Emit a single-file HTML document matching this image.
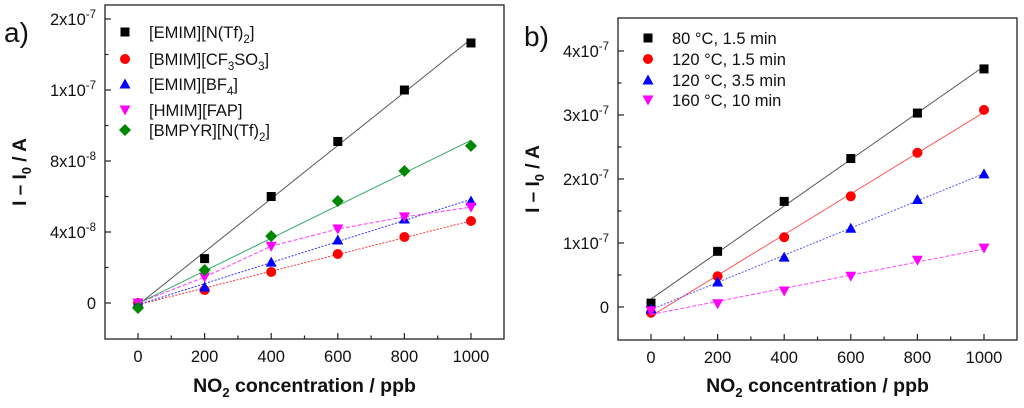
<!DOCTYPE html>
<html><head><meta charset="utf-8"><style>
body{margin:0;background:#fff;}
svg{display:block;font-family:"Liberation Sans",Arial,sans-serif;}
</style></head><body>
<svg id="fig" width="1024" height="408" viewBox="0 0 1024 408" xmlns="http://www.w3.org/2000/svg"></svg>
<script>
// ---- Panel a data ----
const xCats = [0, 200, 400, 600, 800, 1000];
const aNames = ["[EMIM][N(Tf)2]", "[BMIM][CF3SO3]", "[EMIM][BF4]", "[HMIM][FAP]", "[BMPYR][N(Tf)2]"];
const aBlack = [0, 2.5e-8, 6.0e-8, 9.1e-8, 1.2e-7, 1.465e-7];
const aRed = [0, 0.73e-8, 1.75e-8, 2.76e-8, 3.72e-8, 4.62e-8];
const aBlue = [0, 0.9e-8, 2.3e-8, 3.55e-8, 4.73e-8, 5.75e-8];
const aMagenta = [0, 1.46e-8, 3.2e-8, 4.17e-8, 4.85e-8, 5.4e-8];
const aGreen = [-0.28e-8, 1.86e-8, 3.77e-8, 5.75e-8, 7.44e-8, 8.85e-8];
const aYTickVals = [0, 4e-8, 8e-8, 1.2e-7, 1.6e-7];
const aYTickLabels = [["0",""], ["4x10","-8"], ["8x10","-8"], ["1x10","-7"], ["2x10","-7"]];
// ---- Panel b data ----
const bNames = ["80 °C, 1.5 min", "120 °C, 1.5 min", "120 °C, 3.5 min", "160 °C, 10 min"];
const bBlack = [0.06e-7, 0.87e-7, 1.65e-7, 2.32e-7, 3.03e-7, 3.72e-7];
const bRed = [-0.09e-7, 0.48e-7, 1.09e-7, 1.73e-7, 2.41e-7, 3.08e-7];
const bBlue = [-0.03e-7, 0.39e-7, 0.78e-7, 1.23e-7, 1.68e-7, 2.08e-7];
const bMagenta = [-0.06e-7, 0.05e-7, 0.25e-7, 0.48e-7, 0.73e-7, 0.92e-7];
const bYTickVals = [0, 1e-7, 2e-7, 3e-7, 4e-7];
const bYTickLabels = [["0",""], ["1x10","-7"], ["2x10","-7"], ["3x10","-7"], ["4x10","-7"]];
const xTickLabels = ["0", "200", "400", "600", "800", "1000"];

const NS = "http://www.w3.org/2000/svg";
const svg = document.getElementById("fig");
function mk(tag, attrs, parent) {
  const e = document.createElementNS(NS, tag);
  for (const k in attrs) e.setAttribute(k, attrs[k]);
  (parent || svg).appendChild(e);
  return e;
}
function fit(xs, ys) {
  const n = xs.length; let sx=0, sy=0, sxx=0, sxy=0;
  for (let i=0;i<n;i++){sx+=xs[i];sy+=ys[i];sxx+=xs[i]*xs[i];sxy+=xs[i]*ys[i];}
  const m = (n*sxy-sx*sy)/(n*sxx-sx*sx); return {m:m, b:(sy-m*sx)/n};
}
function marker(g, shape, cx, cy, color) {
  let e;
  if (shape === "square") e = mk("rect", {x:cx-4.5, y:cy-4.5, width:9, height:9, fill:color}, g);
  else if (shape === "circle") e = mk("circle", {cx:cx, cy:cy, r:5, fill:color}, g);
  else if (shape === "up") e = mk("polygon", {points:`${cx},${cy-5.5} ${cx+5.5},${cy+4.5} ${cx-5.5},${cy+4.5}`, fill:color}, g);
  else if (shape === "down") e = mk("polygon", {points:`${cx},${cy+5.5} ${cx+5.5},${cy-4.5} ${cx-5.5},${cy-4.5}`, fill:color}, g);
  else e = mk("polygon", {points:`${cx},${cy-6} ${cx+6},${cy} ${cx},${cy+6} ${cx-6},${cy}`, fill:color}, g);
  return e;
}
function panel(cfg) {
  const g = mk("g", {});
  
  
  const X = v => cfg.x0 + (v - 0) / 1000 * (cfg.x1 - cfg.x0);
  const Y = v => cfg.y0 - v / cfg.yRef * (cfg.y0 - cfg.yRefPx);
  const fr = mk("rect", {x:cfg.L, y:cfg.T, width:cfg.R-cfg.L, height:cfg.B-cfg.T, fill:"none", stroke:"#222", "stroke-width":1.3}, g);
  
  
  for (let v=-100; v<=1100; v+=100) {
    const px = X(v); if (px<=cfg.L+1 || px>=cfg.R-1) continue;
    const major = v % 200 === 0;
    mk("line", {x1:px, x2:px, y1:cfg.B, y2:cfg.B-(major?6:3.5), stroke:"#222", "stroke-width":1.2}, g);
  }
  xCats.forEach((v,i) => {
    const t = mk("text", {x:X(v), y:cfg.B+23, "font-size":16.5, "text-anchor":"middle", fill:"#111"}, g);
    t.textContent = xTickLabels[i];
    
    
  });
  const step = cfg.yTickVals[1] - cfg.yTickVals[0];
  for (let k=-2; k<=12; k++) {
    const v = k*step/2; const py = Y(v);
    if (py<=cfg.T+1 || py>=cfg.B-1) continue;
    mk("line", {x1:cfg.L, x2:cfg.L+(k%2===0?6:3.5), y1:py, y2:py, stroke:"#222", "stroke-width":1.2}, g);
  }
  cfg.yTickVals.forEach((v,i) => {
    const t = mk("text", {x:cfg.L-9, y:Y(v)+6, "font-size":16.5, "text-anchor":"end", fill:"#111"}, g);
    
    
    const lab = cfg.yTickLabels[i];
    if (lab[1]) {
      const a = mk("tspan", {}, t); a.textContent = lab[0];
      const b = mk("tspan", {dy:-7, "font-size":11.5}, t); b.textContent = lab[1];
    } else t.textContent = lab[0];
  });
  const xt = mk("text", {x:(cfg.L+cfg.R)/2, y:392, "font-size":19.5, "font-weight":"bold", "text-anchor":"middle", fill:"#111"}, g);
  
  
  let s = mk("tspan", {}, xt); s.textContent = "NO";
  s = mk("tspan", {dy:5, "font-size":13}, xt); s.textContent = "2";
  s = mk("tspan", {dy:-5}, xt); s.textContent = " concentration / ppb";
  const yt = mk("text", {x:0, y:0, "font-size":19, "font-weight":"bold", "text-anchor":"middle", fill:"#111", transform:`translate(${cfg.L-79},${(cfg.T+cfg.B)/2}) rotate(-90)`}, g);
  
  
  s = mk("tspan", {}, yt); s.textContent = "I – I";
  s = mk("tspan", {dy:5, "font-size":13}, yt); s.textContent = "0";
  s = mk("tspan", {dy:-5}, yt); s.textContent = " / A";
  const pl = mk("text", {x:cfg.labelX, y:cfg.labelY, "font-size":28, fill:"#111"}, g);
  pl.textContent = cfg.label;
  
  
  cfg.series.forEach((sr, si) => {
    const sg = mk("g", {}, g);
    
    
    const dash = sr.line === "dot" ? "2,1.5" : sr.line === "dash" ? "4,2" : "none";
    if (sr.fit) {
      const f = fit(xCats, sr.data);
      mk("line", {x1:X(0), y1:Y(f.b), x2:X(1000), y2:Y(f.m*1000+f.b), stroke:sr.lineColor, "stroke-width":1, "stroke-dasharray":dash}, sg);
    } else {
      mk("polyline", {points:sr.data.map((v,i)=>X(xCats[i])+","+Y(v)).join(" "), fill:"none", stroke:sr.lineColor, "stroke-width":1.2, "stroke-dasharray":dash}, sg);
    }
    sr.data.forEach((v,i) => {
      const m = marker(sg, sr.shape, X(xCats[i]), Y(v), sr.color);
      
      
    });
    const ly = cfg.legY[si];
    const lg = mk("g", {}, g);
    
    
    marker(lg, sr.shape, cfg.legX, ly, sr.color);
    const lt = mk("text", {x:cfg.legX+24, y:ly+6, "font-size":16.5, fill:"#111"}, lg);
    sr.label.forEach(part => {
      const ts = mk("tspan", part.sub ? {dy:5, "font-size":11.5} : (part.back ? {dy:-5} : {}), lt);
      ts.textContent = part.t;
    });
  });
}
function parts(str){
  const out=[]; let down=false;
  str.split(/(\d)/).forEach(p=>{ if(!p) return;
    if(/^\d$/.test(p)){ out.push({t:p, sub:true}); down=true; }
    else { out.push({t:p, back:down}); down=false; } });
  return out;
}
panel({name:"panel-a", L:105, R:504, T:5, B:339, x0:138, x1:471, y0:303, yRef:4e-8, yRefPx:232,
  yTickVals:aYTickVals, yTickLabels:aYTickLabels, label:"a)", labelX:4, labelY:42,
  legX:125, legY:[32,59,84,110,130],
  series:[
    {key:"emim-ntf2", data:aBlack, color:"#000", lineColor:"#555", shape:"square", line:"solid", fit:true, label:parts(aNames[0])},
    {key:"bmim-cf3so3", data:aRed, color:"#f00", lineColor:"#f33", shape:"circle", line:"dot", fit:true, label:parts(aNames[1])},
    {key:"emim-bf4", data:aBlue, color:"#00f", lineColor:"#33f", shape:"up", line:"dot", fit:true, label:parts(aNames[2])},
    {key:"hmim-fap", data:aMagenta, color:"#f0f", lineColor:"#f5f", shape:"down", line:"dash", fit:false, label:parts(aNames[3])},
    {key:"bmpyr-ntf2", data:aGreen, color:"#080", lineColor:"#3a6", shape:"diamond", line:"solid", fit:true, label:parts(aNames[4])}
  ]});
panel({name:"panel-b", L:618, R:1017, T:18, B:340, x0:651, x1:984, y0:307, yRef:1e-7, yRefPx:243,
  yTickVals:bYTickVals, yTickLabels:bYTickLabels, label:"b)", labelX:524, labelY:46,
  legX:648, legY:[38,59,80,100],
  series:[
    {key:"80c-1-5min", data:bBlack, color:"#000", lineColor:"#555", shape:"square", line:"solid", fit:true, label:[{t:bNames[0]}]},
    {key:"120c-1-5min", data:bRed, color:"#f00", lineColor:"#f55", shape:"circle", line:"solid", fit:true, label:[{t:bNames[1]}]},
    {key:"120c-3-5min", data:bBlue, color:"#00f", lineColor:"#55f", shape:"up", line:"dot", fit:true, label:[{t:bNames[2]}]},
    {key:"160c-10min", data:bMagenta, color:"#f0f", lineColor:"#f4f", shape:"down", line:"dash", fit:true, label:[{t:bNames[3]}]}
  ]});
</script>
</body></html>
